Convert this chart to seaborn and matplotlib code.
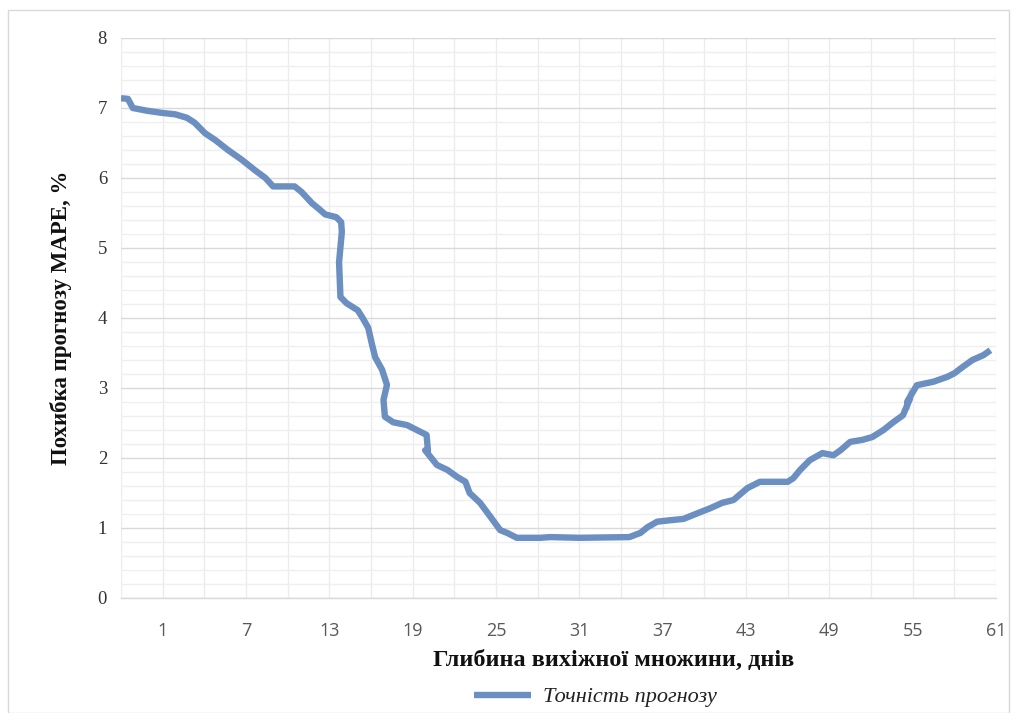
import numpy as np
import pandas as pd
import matplotlib
matplotlib.use("Agg")
import matplotlib.pyplot as plt
from matplotlib.ticker import MultipleLocator, FixedLocator
from matplotlib.patches import Rectangle
import seaborn as sns

# ---- data ----
depth = [-2.0, -1.5, -1.15, -0.1, 0.95, 1.9, 2.75, 3.3, 4.05, 4.8, 5.7, 6.7, 7.65, 8.4, 8.95,
         10.5, 11.0, 11.75, 12.3, 12.7, 13.5, 13.85, 13.9, 13.7, 13.7, 13.8, 14.25, 15.05, 15.4,
         15.8, 16.05, 16.3, 16.8, 17.15, 17.15, 16.9, 17.0, 17.6, 18.6, 19.3, 20.0, 20.1, 19.9,
         20.1, 20.75, 21.5, 22.2, 22.8, 23.1, 23.85, 24.6, 25.3, 25.8, 26.5, 28.2, 28.9, 31.0,
         34.6, 35.4, 35.9, 36.6, 37.5, 38.5, 39.5, 40.4, 41.3, 42.1, 43.1, 44.0, 46.0, 46.4,
         46.9, 47.6, 48.5, 49.3, 49.8, 50.5, 51.4, 52.1, 52.9, 53.6, 54.3, 54.8, 54.6, 54.6,
         54.8, 55.3, 56.5, 57.5, 58.0, 58.6, 59.3, 60.1, 60.6]
mape = [7.14, 7.13, 7.00, 6.96, 6.93, 6.91, 6.86, 6.79, 6.64, 6.54, 6.40, 6.26, 6.11, 6.00, 5.88,
        5.88, 5.80, 5.64, 5.55, 5.48, 5.44, 5.37, 5.23, 5.05, 4.54, 4.30, 4.21, 4.11, 4.00,
        3.86, 3.64, 3.44, 3.26, 3.16, 2.93, 2.83, 2.59, 2.51, 2.47, 2.40, 2.33, 2.21, 2.11,
        2.00, 1.90, 1.83, 1.73, 1.66, 1.50, 1.36, 1.16, 0.97, 0.93, 0.86, 0.86, 0.87, 0.86,
        0.87, 0.93, 1.01, 1.09, 1.11, 1.13, 1.21, 1.28, 1.36, 1.40, 1.57, 1.66, 1.66, 1.71,
        1.83, 1.97, 2.07, 2.04, 2.11, 2.23, 2.26, 2.30, 2.40, 2.51, 2.61, 2.69, 2.73, 2.87,
        3.00, 3.04, 3.09, 3.16, 3.21, 3.30, 3.40, 3.47, 3.54]
x_ticks = [1, 7, 13, 19, 25, 31, 37, 43, 49, 55, 61]
y_ticks = [0, 1, 2, 3, 4, 5, 6, 7, 8]
series_name = "Точність прогнозу"
x_title = "Глибина вихіжної множини, днів"
y_title = "Похибка прогнозу MAPE, %"

df = pd.DataFrame({"depth": depth, "mape": mape})

sns.set_theme(style="white")
plt.rcParams["font.family"] = ["Liberation Serif", "DejaVu Serif"]

W, H = 1016, 713
fig = plt.figure(figsize=(W / 100, H / 100), dpi=100)
ax = fig.add_axes([121 / W, 1 - 598 / H, 875 / W, 560 / H])

# outer chart border
fig.patches.append(Rectangle((8 / W, 0), (1009 - 8) / W, 1 - 10 / H,
                             transform=fig.transFigure, fill=False,
                             edgecolor="#d9d9d9", linewidth=1.0))

sns.lineplot(data=df, x="depth", y="mape", sort=False, ax=ax,
             color="#6b8fc1", linewidth=4.6, label=series_name,
             solid_joinstyle="round", solid_capstyle="butt")

ax.set_xlim(-2, 61)
ax.set_ylim(0, 8)

# grids
ax.yaxis.set_major_locator(FixedLocator(y_ticks))
ax.yaxis.set_minor_locator(MultipleLocator(0.2))
ax.xaxis.set_major_locator(FixedLocator(x_ticks))
ax.xaxis.set_minor_locator(FixedLocator(list(range(-2, 62, 3))))
ax.grid(which="major", axis="y", color="#d9d9d9", linewidth=1.0)
ax.grid(which="minor", axis="y", color="#efefef", linewidth=1.0)
ax.grid(which="minor", axis="x", color="#ececec", linewidth=1.0)
ax.grid(which="major", axis="x", color="#ececec", linewidth=1.0)
ax.set_axisbelow(True)

for s in ["top", "right", "left"]:
    ax.spines[s].set_visible(False)
ax.spines["bottom"].set_color("#d9d9d9")
ax.spines["bottom"].set_linewidth(1.0)

ax.tick_params(axis="both", which="both", length=0)
ax.tick_params(axis="y", pad=10, labelsize=13.5, labelcolor="#333333")
ax.tick_params(axis="x", pad=17, labelsize=13, labelcolor="#595959")
ax.set_yticklabels([str(v) for v in y_ticks])
ax.set_xticklabels([str(v) for v in x_ticks], family=["Open Sans", "DejaVu Sans"])

ax.set_xlabel(x_title, fontsize=17.5, fontweight="bold", color="#111111")
ax.xaxis.set_label_coords((614 - 121) / 875, -(650 - 598) / 560)
ax.set_ylabel(y_title, fontsize=16.5, fontweight="bold", color="#111111")
ax.yaxis.set_label_coords(-(121 - 72) / 875, 0.5)

leg = ax.legend(loc="center", bbox_to_anchor=((595 - 121) / 875, -(697 - 598) / 560),
                frameon=False, handlelength=2.6, handletextpad=0.5,
                prop={"family": "Liberation Serif", "style": "italic", "size": 16})
for t in leg.get_texts():
    t.set_color("#222222")

fig.savefig("out.png", dpi=100)
